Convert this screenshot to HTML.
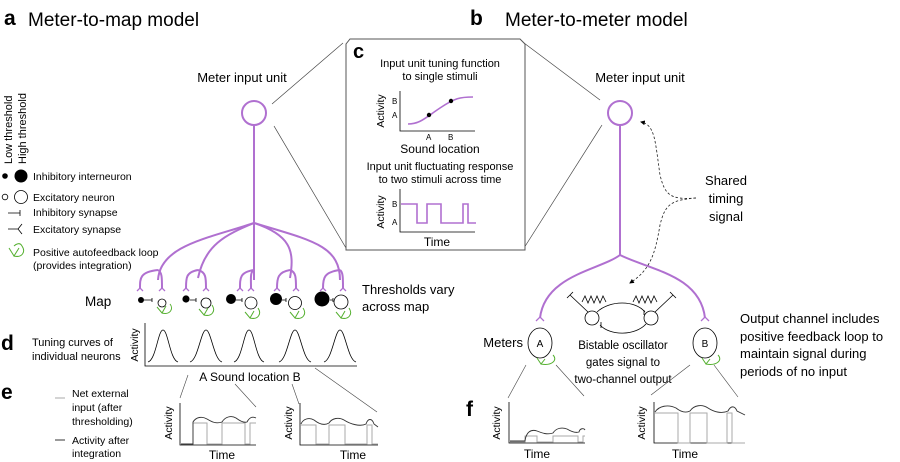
<!DOCTYPE html>
<html><head><meta charset="utf-8"><style>
html,body{margin:0;padding:0;background:#fff}
svg{display:block;font-family:"Liberation Sans",sans-serif}
</style></head><body>
<svg width="900" height="462" viewBox="0 0 900 462" xmlns="http://www.w3.org/2000/svg">
<defs>
<marker id="ah" viewBox="0 0 10 10" refX="8" refY="5" markerWidth="6" markerHeight="6" orient="auto"><path d="M0,0L10,5L0,10z" fill="#000"/></marker>
</defs>
<!-- titles -->
<text x="4" y="25" font-size="21" font-weight="bold">a</text>
<text x="28" y="26" font-size="19">Meter-to-map model</text>
<text x="470" y="25" font-size="21" font-weight="bold">b</text>
<text x="505" y="26" font-size="19">Meter-to-meter model</text>
<text x="242" y="82" font-size="13" text-anchor="middle">Meter input unit</text>
<text x="640" y="82" font-size="13" text-anchor="middle">Meter input unit</text>

<!-- legend -->
<text transform="translate(12,164) rotate(-90)" font-size="11">Low threshold</text>
<text transform="translate(26,164) rotate(-90)" font-size="11">High threshold</text>
<circle cx="5" cy="176" r="2.8" fill="#000"/>
<circle cx="21" cy="176" r="6.5" fill="#000"/>
<text x="33" y="180" font-size="10.5">Inhibitory interneuron</text>
<circle cx="5" cy="197" r="2.8" fill="none" stroke="#000" stroke-width="0.8"/>
<circle cx="21" cy="197" r="6.5" fill="none" stroke="#000" stroke-width="0.8"/>
<text x="33" y="201" font-size="10.5">Excitatory neuron</text>
<path d="M8,213H20M20,210V216" stroke="#000" stroke-width="0.8" fill="none"/>
<text x="33" y="216" font-size="10.5">Inhibitory synapse</text>
<path d="M8,229H18M22,224L18,229L22,234" stroke="#000" stroke-width="0.8" fill="none"/>
<text x="33" y="233" font-size="10.5">Excitatory synapse</text>
<path d="M9,248L14,256L19,248M14,256C22,258 26,252 22,246C20,242 16,244 14,246" stroke="#55b030" stroke-width="1" fill="none"/>
<text x="33" y="256" font-size="10.5">Positive autofeedback loop</text>
<text x="33" y="269" font-size="10.5">(provides integration)</text>

<!-- left tree -->
<g stroke="#b070d0" stroke-width="2" fill="none">
<circle cx="254" cy="113" r="12"/>
<path d="M254,125V280"/>
<path d="M254,223C210,238 160,245 158,280"/>
<path d="M254,223C225,235 205,245 198,278"/>
<path d="M254,223C290,235 295,250 290,278"/>
<path d="M254,223C310,240 340,245 340,280"/>
<path d="M158,270C140,272 140,278 140,288M158,270C162,272 162,278 162,288"/>
<path d="M198,270C186,272 186,278 186,288M198,270C206,272 206,278 206,288"/>
<path d="M254,270C240,272 240,278 240,288M254,270C250,272 251,278 251,288"/>
<path d="M290,270C278,272 277,278 277,288M290,270C296,272 296,278 296,288"/>
<path d="M340,270C324,272 323,278 323,288M340,270C343,272 343,278 343,288"/>
</g>
<g stroke="#b070d0" stroke-width="1.3" fill="none">
<path d="M137,291L140,288L143,291M159,291L162,288L165,291M183,291L186,288L189,291M203,291L206,288L209,291M237,291L240,288L243,291M248,291L251,288L254,291M274,291L277,288L280,291M293,291L296,288L299,291M320,291L323,288L326,291M340,291L343,288L346,291"/>
</g>
<g>
<circle cx="141" cy="300" r="3" fill="#000"/>
<circle cx="186" cy="299" r="3.6" fill="#000"/>
<circle cx="231" cy="299" r="5" fill="#000"/>
<circle cx="276" cy="299" r="6" fill="#000"/>
<circle cx="322" cy="299" r="7.5" fill="#000"/>
<g fill="none" stroke="#000" stroke-width="0.8">
<circle cx="162" cy="303" r="4"/><circle cx="206" cy="303" r="5"/><circle cx="251" cy="303" r="6"/><circle cx="295" cy="303" r="6.5"/><circle cx="341" cy="302" r="7"/>
<path d="M144,300H152M152,298V302M190,300H196M196,298V302M236,300H242M242,298V302M282,300H286M286,298V302M330,300H333M333,298V302"/>
</g>
<g fill="none" stroke="#55b030" stroke-width="1">
<path d="M157,307L162,313L166,306M162,313C170,315 174,309 170,304"/>
<path d="M199,309L204,315L208,308M204,315C212,317 216,311 212,305"/>
<path d="M245,312L250,318L254,311M250,318C258,320 262,314 258,308"/>
<path d="M290,312L295,318L299,311M295,318C303,320 307,314 303,308"/>
<path d="M336,312L341,318L345,311M341,318C349,320 353,314 349,308"/>
</g>
</g>
<text x="85" y="306" font-size="13.5">Map</text>
<text x="362" y="294" font-size="13">Thresholds vary</text>
<text x="362" y="311" font-size="13">across map</text>

<!-- connector lines a to c -->
<g stroke="#444" stroke-width="0.7" fill="none">
<path d="M272,104L343,43"/><path d="M274,126L346,248"/>
<path d="M524,43L600,100"/><path d="M524,248L602,125"/>
</g>
<!-- c box -->
<path d="M350,39H520L525,44V250H346V44z" fill="#fff" stroke="#555" stroke-width="1"/>
<text x="353" y="58" font-size="20" font-weight="bold">c</text>
<text x="440" y="67" font-size="11" text-anchor="middle">Input unit tuning function</text>
<text x="440" y="80" font-size="11" text-anchor="middle">to single stimuli</text>
<path d="M400,91V131H475" stroke="#000" stroke-width="0.8" fill="none"/>
<text transform="translate(384,111) rotate(-90)" font-size="10.5" text-anchor="middle">Activity</text>
<text x="392" y="104" font-size="8">B</text><text x="392" y="118" font-size="8">A</text>
<path d="M408,124C420,124 425,118 440,108C455,98 460,97 473,97" stroke="#b070d0" stroke-width="1.6" fill="none"/>
<circle cx="429" cy="115" r="2.2" fill="#000"/><circle cx="451" cy="101" r="2.2" fill="#000"/>
<text x="426" y="140" font-size="8">A</text><text x="448" y="140" font-size="8">B</text>
<text x="440" y="153" font-size="12" text-anchor="middle">Sound location</text>
<text x="440" y="170" font-size="11" text-anchor="middle">Input unit fluctuating response</text>
<text x="440" y="183" font-size="11" text-anchor="middle">to two stimuli across time</text>
<path d="M400,189V232H475" stroke="#000" stroke-width="0.8" fill="none"/>
<text transform="translate(384,212) rotate(-90)" font-size="10.5" text-anchor="middle">Activity</text>
<text x="392" y="207" font-size="8">B</text><text x="392" y="225" font-size="8">A</text>
<path d="M401,204H417V223H427V204H441V223H463V204H468V223H476" stroke="#b070d0" stroke-width="1.6" fill="none"/>
<text x="437" y="246" font-size="12" text-anchor="middle">Time</text>

<!-- d -->
<text x="1" y="350" font-size="21" font-weight="bold">d</text>
<text x="32" y="346" font-size="11">Tuning curves of</text>
<text x="32" y="360" font-size="11">individual neurons</text>
<path d="M145,323V366H357" stroke="#000" stroke-width="0.8" fill="none"/>
<text transform="translate(138,345) rotate(-90)" font-size="10.5" text-anchor="middle">Activity</text>
<g stroke="#000" stroke-width="0.8" fill="none">
<path d="M148,362C156,360 158,330 163,330C168,330 170,360 178,362"/>
<path d="M190,362C198,360 201,330 206,330C211,330 214,360 222,362"/>
<path d="M234,362C242,360 244,330 249,330C254,330 256,360 264,362"/>
<path d="M279,362C287,360 290,330 295,330C300,330 303,360 311,362"/>
<path d="M324,362C332,360 335,330 340,330C345,330 348,360 356,362"/>
</g>
<text x="250" y="381" font-size="12" text-anchor="middle">A Sound location B</text>

<!-- e -->
<text x="1" y="399" font-size="21" font-weight="bold">e</text>
<path d="M55,398H65" stroke="#aaa" stroke-width="1"/>
<text x="72" y="397" font-size="10.5">Net external</text>
<text x="72" y="411" font-size="10.5">input (after</text>
<text x="72" y="425" font-size="10.5">thresholding)</text>
<path d="M55,440H65" stroke="#000" stroke-width="0.8"/>
<text x="72" y="444" font-size="10.5">Activity after</text>
<text x="72" y="457" font-size="10.5">integration</text>
<g stroke="#444" stroke-width="0.6" fill="none">
<path d="M188,375L180,398"/><path d="M235,384L256,407"/><path d="M292,384L299,404"/><path d="M315,368L377,412"/>
</g>
<path d="M180,403V445H256" stroke="#000" stroke-width="0.8" fill="none"/>
<text transform="translate(172,423) rotate(-90)" font-size="10.5" text-anchor="middle">Activity</text>
<path d="M193,444V423H207V444H222V423H245V444H250V423H256" stroke="#aaa" stroke-width="1" fill="none"/>
<path d="M181,444H193V422C196,417 202,416 207,419C212,422 216,424 222,422C225,417 231,415 236,418C240,421 244,423 247,422C249,418 252,416 256,418" stroke="#333" stroke-width="0.9" fill="none"/>
<text x="222" y="459" font-size="12" text-anchor="middle">Time</text>
<path d="M300,403V445H378" stroke="#000" stroke-width="0.8" fill="none"/>
<text transform="translate(292,423) rotate(-90)" font-size="10.5" text-anchor="middle">Activity</text>
<path d="M301,425H316V444H329V425H345V444H367V425H372V444H378" stroke="#aaa" stroke-width="1" fill="none"/>
<path d="M301,424C303,419 309,417 314,420C319,424 324,426 329,423C332,418 339,417 344,420C350,424 360,427 366,424C368,418 372,418 374,424L378,427" stroke="#333" stroke-width="0.9" fill="none"/>
<text x="353" y="459" font-size="12" text-anchor="middle">Time</text>

<!-- right tree -->
<g stroke="#b070d0" stroke-width="2" fill="none">
<circle cx="620" cy="113" r="12"/>
<path d="M620,125V255"/>
<path d="M620,255C600,270 545,275 540,318"/>
<path d="M620,255C650,270 700,275 705,318"/>
</g>
<path d="M536,321L540,317L544,321M701,321L705,317L709,321" stroke="#b070d0" stroke-width="1.3" fill="none"/>
<ellipse cx="540" cy="343" rx="12" ry="15" fill="none" stroke="#000" stroke-width="0.8"/>
<ellipse cx="705" cy="343" rx="12" ry="15" fill="none" stroke="#000" stroke-width="0.8"/>
<text x="540" y="347" font-size="10" text-anchor="middle">A</text>
<text x="705" y="347" font-size="10" text-anchor="middle">B</text>
<g fill="none" stroke="#55b030" stroke-width="1">
<path d="M537,358L541,364L545,359M541,364C552,366 558,360 553,355"/>
<path d="M702,358L706,364L710,359M706,364C717,366 723,360 718,355"/>
</g>
<text x="523" y="347" font-size="13" text-anchor="end">Meters</text>
<!-- oscillator -->
<g fill="none" stroke="#000" stroke-width="0.8">
<circle cx="592" cy="318" r="7"/><circle cx="651" cy="318" r="7"/>
<path d="M597,312C610,300 635,300 645,312M644,310V315"/>
<path d="M646,324C635,336 610,336 600,325M601,322V328"/>
<path d="M588,312L570,295M567,298L573,292"/>
<path d="M655,312L673,295M670,292L676,298"/>
<path d="M582,302L585,296L588,303L591,296L594,303L597,296L600,303L603,296L606,302"/>
<path d="M633,302L636,296L639,303L642,296L645,303L648,296L651,303L654,296L657,302"/>
</g>
<text x="623" y="349" font-size="11.5" text-anchor="middle">Bistable oscillator</text>
<text x="623" y="366" font-size="11.5" text-anchor="middle">gates signal to</text>
<text x="623" y="383" font-size="11.5" text-anchor="middle">two-channel output</text>
<!-- shared timing -->
<text x="726" y="185" font-size="13" text-anchor="middle">Shared</text>
<text x="726" y="203" font-size="13" text-anchor="middle">timing</text>
<text x="726" y="221" font-size="13" text-anchor="middle">signal</text>
<g fill="none" stroke="#222" stroke-width="0.8" stroke-dasharray="2.5,2">
<path d="M696,198C670,200 665,195 660,175C655,140 655,125 641,122" marker-end="url(#ah)"/>
<path d="M696,198C670,200 665,205 660,225C655,255 650,270 630,283" marker-end="url(#ah)"/>
</g>
<text x="740" y="323" font-size="13">Output channel includes</text>
<text x="740" y="341" font-size="13">positive feedback loop to</text>
<text x="740" y="358" font-size="13">maintain signal during</text>
<text x="740" y="376" font-size="13">periods of no input</text>

<!-- f -->
<text x="466" y="416" font-size="21" font-weight="bold">f</text>
<g stroke="#444" stroke-width="0.6" fill="none">
<path d="M526,365L508,398"/><path d="M556,365L584,396"/><path d="M690,365L651,395"/><path d="M714,365L738,397"/>
</g>
<path d="M509,402V443H585" stroke="#000" stroke-width="0.8" fill="none"/>
<text transform="translate(500,423) rotate(-90)" font-size="10.5" text-anchor="middle">Activity</text>
<path d="M510,442H525V436H537V442H553V436H578V442H583V436H585" stroke="#aaa" stroke-width="1" fill="none"/>
<path d="M510,441H525C526,432 531,429 537,431C542,433 547,435 553,433C556,428 562,427 567,429C572,432 576,433 579,432C580,428 584,428 585,430" stroke="#333" stroke-width="0.9" fill="none"/>
<text x="537" y="458" font-size="12" text-anchor="middle">Time</text>
<path d="M654,402V443H745" stroke="#000" stroke-width="0.8" fill="none"/>
<text transform="translate(645,423) rotate(-90)" font-size="10.5" text-anchor="middle">Activity</text>
<path d="M655,413H678V443H690V413H707V443H727V413H732V443H745" stroke="#aaa" stroke-width="1" fill="none"/>
<path d="M655,412C659,406 668,404 676,408C681,412 686,413 690,411C694,405 702,404 708,408C714,412 722,414 728,411C731,405 735,406 737,411L745,415" stroke="#333" stroke-width="0.9" fill="none"/>
<text x="685" y="458" font-size="12" text-anchor="middle">Time</text>
</svg>
</body></html>
